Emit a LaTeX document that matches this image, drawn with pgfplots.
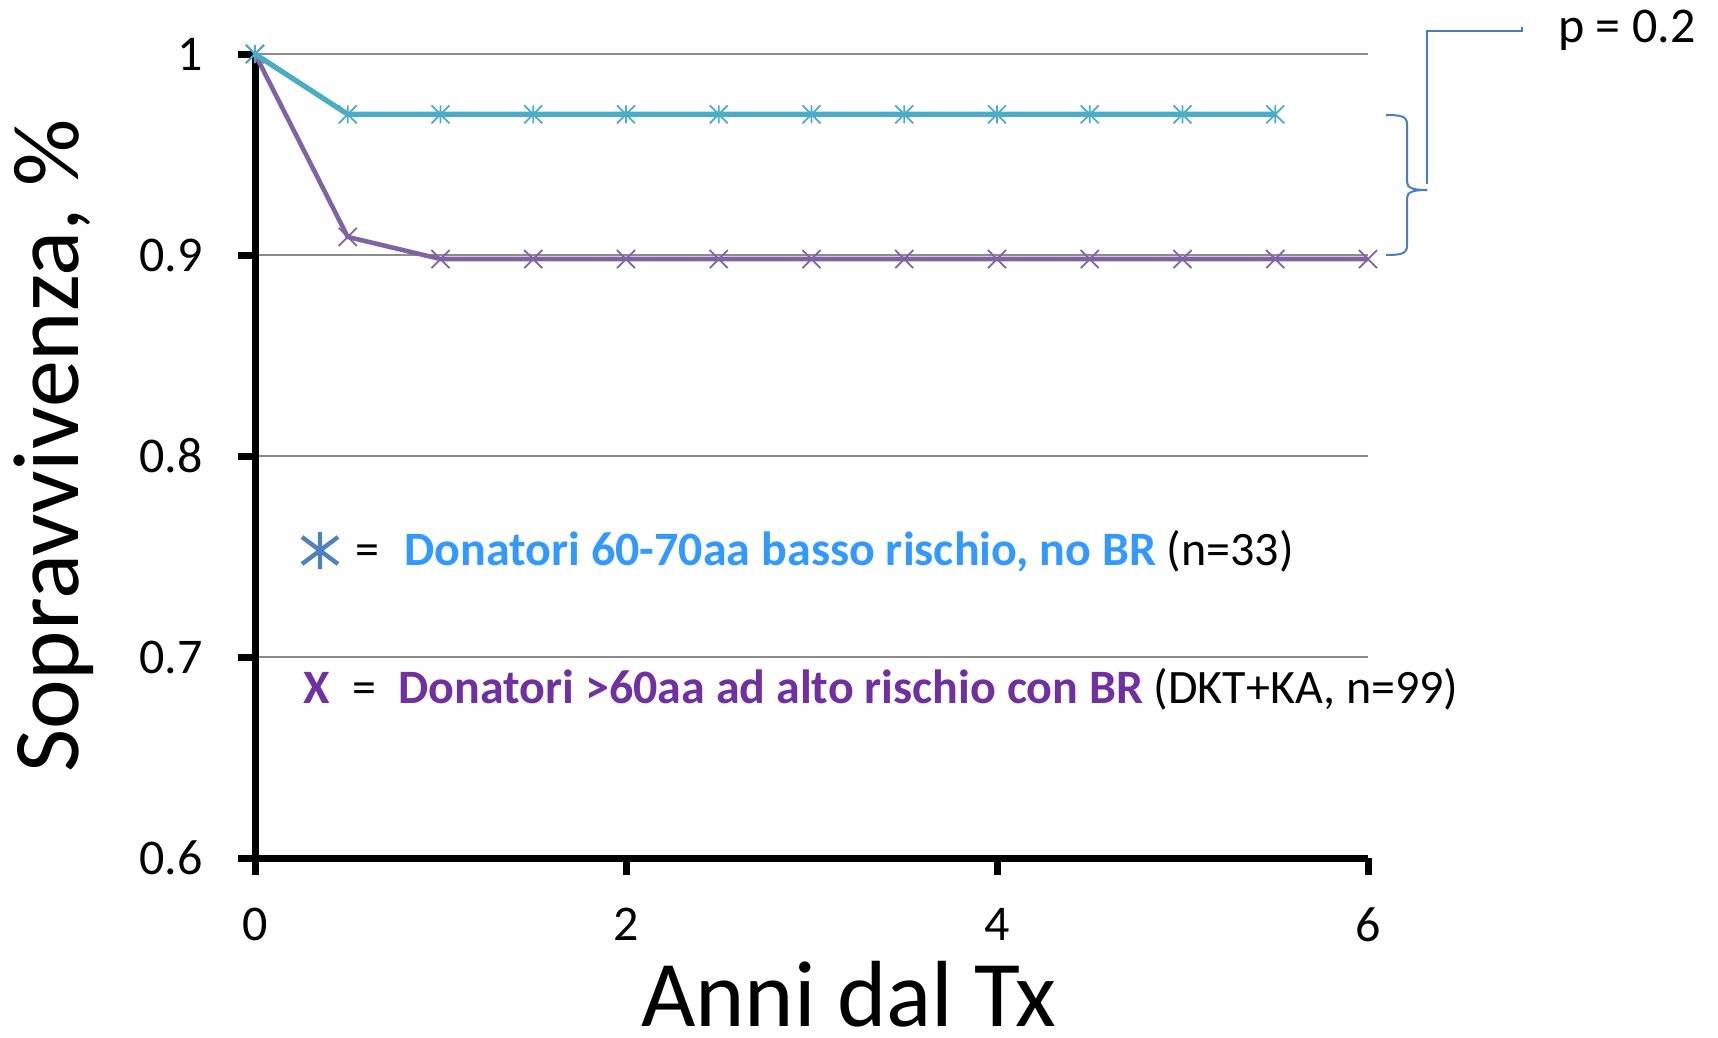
\documentclass[border=0pt]{standalone}
\usepackage{fontspec}
\setmainfont{Carlito}
\usepackage{pgfplots}
\pgfplotsset{compat=1.18}

\definecolor{lowrisk}{HTML}{4BACC6}
\definecolor{highrisk}{HTML}{8064A2}
\definecolor{lowtext}{HTML}{3399FF}
\definecolor{hightext}{HTML}{7030A0}
\definecolor{starblue}{HTML}{4F81BD}
\definecolor{bracecol}{HTML}{4A7EC4}
\definecolor{gridgray}{HTML}{8C8C8C}

% star marker: an X with a vertical stroke
\pgfdeclareplotmark{xstar}{%
  \pgfpathmoveto{\pgfqpoint{0pt}{\pgfplotmarksize}}%
  \pgfpathlineto{\pgfqpoint{0pt}{-\pgfplotmarksize}}%
  \pgfpathmoveto{\pgfqpoint{-\pgfplotmarksize}{\pgfplotmarksize}}%
  \pgfpathlineto{\pgfqpoint{\pgfplotmarksize}{-\pgfplotmarksize}}%
  \pgfpathmoveto{\pgfqpoint{-\pgfplotmarksize}{-\pgfplotmarksize}}%
  \pgfpathlineto{\pgfqpoint{\pgfplotmarksize}{\pgfplotmarksize}}%
  \pgfusepathqstroke}

\begin{document}
\begin{tikzpicture}
\begin{scope}[x=0.5pt,y=-0.5pt]
  \useasboundingbox (0,0) rectangle (1718,1038);
\end{scope}

\begin{axis}[
  at={(127.5pt,-429pt)}, anchor=south west,
  scale only axis, width=556.5pt, height=402pt,
  xmin=0, xmax=6, ymin=0.6, ymax=1,
  axis x line*=bottom, axis y line*=left,
  axis line style={line width=3.5pt, black},
  xtick={0,2,4,6}, ytick={0.6,0.7,0.8,0.9,1},
  tick style={line width=3.5pt, black},
  major tick length=8.5pt, tick align=outside,
  ymajorgrids, grid style={line width=0.6pt, gridgray},
  ticklabel style={font=\fontsize{25}{30}\selectfont},
  /pgf/number format/assume math mode=true,
  yticklabel style={xshift=-14pt, /pgf/number format/fixed, /pgf/number format/precision=1},
  xticklabel style={yshift=-13pt},
  clip=false,
]
\addplot[highrisk, line width=2.3pt, mark=x, mark size=6.4pt,
  mark options={line width=0.9pt, solid}] coordinates {
  (0,1) (0.5,0.909) (1,0.898) (1.5,0.898) (2,0.898) (2.5,0.898) (3,0.898)
  (3.5,0.898) (4,0.898) (4.5,0.898) (5,0.898) (5.5,0.898) (6,0.898)};
\addplot[lowrisk, line width=2.6pt, mark=xstar, mark size=4.5pt,
  mark options={line width=0.9pt, solid}] coordinates {
  (0,1) (0.5,0.97) (1,0.97) (1.5,0.97) (2,0.97) (2.5,0.97) (3,0.97)
  (3.5,0.97) (4,0.97) (4.5,0.97) (5,0.97) (5.5,0.97)};
\end{axis}

\begin{scope}[x=0.5pt,y=-0.5pt]
  % axis titles
  \node[rotate=90, anchor=base, inner sep=0pt] at (78,446)
    {\fontsize{47}{56}\selectfont Sopravvivenza, \%};
  \node[anchor=base, inner sep=0pt] at (849,1026)
    {\fontsize{47}{56}\selectfont Anni dal Tx};

  % key
  \draw[starblue, line width=2.2pt]
    (320,532) -- (320,569)
    (302,537) -- (338,564)
    (302,564) -- (338,537);
  \node[anchor=base, inner sep=0pt] at (367,565)
    {\fontsize{24}{29}\selectfont =};
  \node[anchor=base west, inner sep=0pt] at (404,565)
    {\fontsize{24}{29}\selectfont\textcolor{lowtext}{\bfseries Donatori 60-70aa basso rischio, no BR} (n=33)};
  \node[anchor=base, inner sep=0pt] at (317,703)
    {\fontsize{24}{29}\selectfont\textcolor{hightext}{\bfseries X}};
  \node[anchor=base, inner sep=0pt] at (364,703)
    {\fontsize{24}{29}\selectfont =};
  \node[anchor=base west, inner sep=0pt] at (398,703)
    {\fontsize{24}{29}\selectfont\textcolor{hightext}{\bfseries Donatori >60aa ad alto rischio con BR} (DKT+KA, n=99)};

  % brace and p-value callout
  \draw[bracecol, line width=1pt]
    (1386,115) .. controls (1400,115) and (1407,116) .. (1407,124)
    -- (1407,182) .. controls (1407,188) and (1413,190) .. (1427,190);
  \draw[bracecol, line width=1pt]
    (1386,255) .. controls (1400,255) and (1407,254) .. (1407,246)
    -- (1407,198) .. controls (1407,192) and (1413,190) .. (1427,190);
  \draw[bracecol, line width=1pt]
    (1427,184) -- (1427,31.5) -- (1522,31.5) -- (1522,27);
  \node[anchor=base west, inner sep=0pt] at (1558,43)
    {\fontsize{25}{30}\selectfont p = 0.2};
\end{scope}
\end{tikzpicture}
\end{document}
